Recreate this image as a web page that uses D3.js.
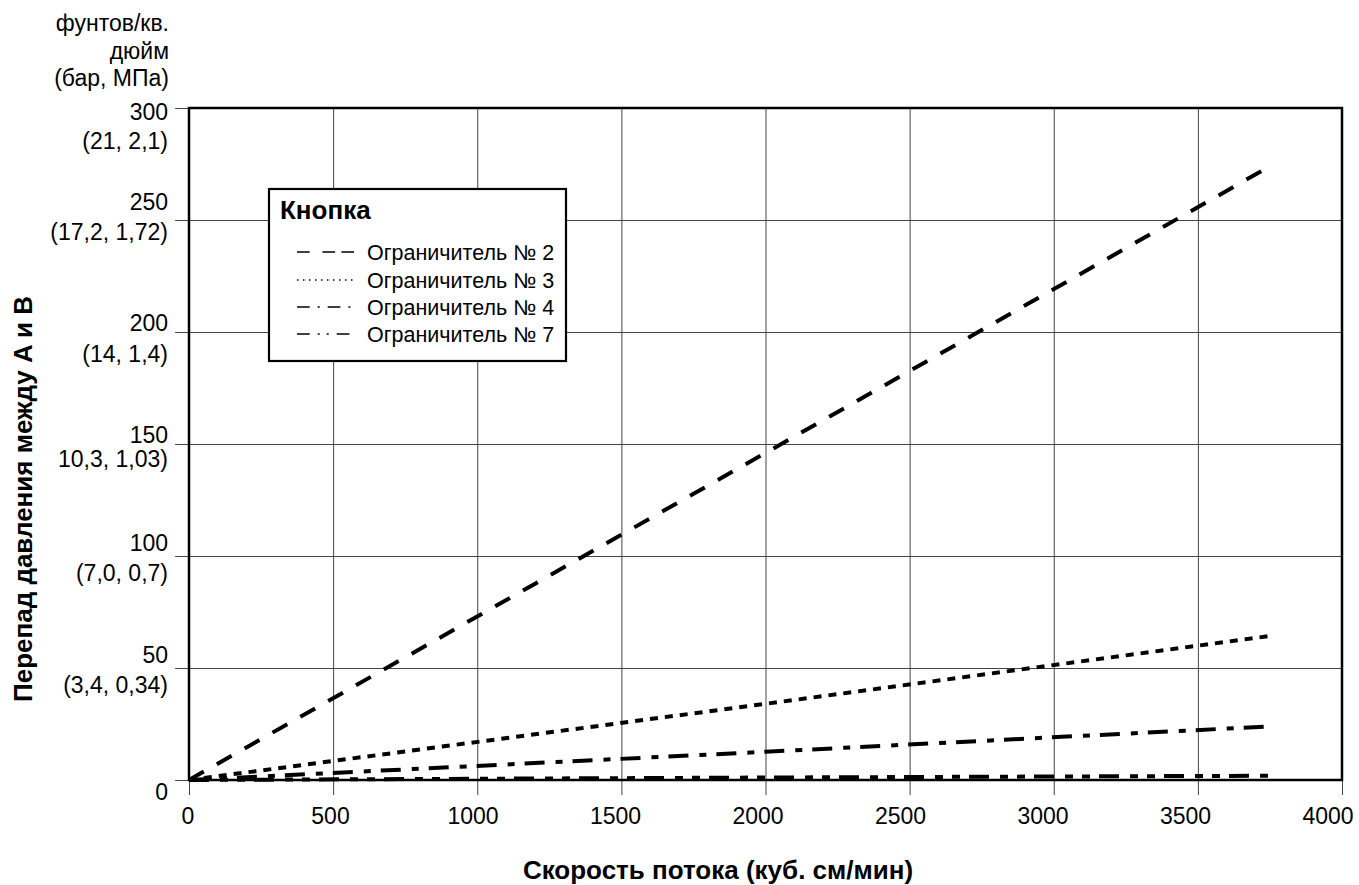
<!DOCTYPE html>
<html>
<head>
<meta charset="utf-8">
<script src="https://cdn.jsdelivr.net/npm/d3@7"></script>
<style>
    body { margin: 0; background: #fff; }
    svg { font-family: "Liberation Sans", Arial, Helvetica, sans-serif; }
</style>
</head>
<body>
<div id="chart"></div>
<script>
// flow rate (cc/min) ticks and pressure ticks
const xTicks = [0, 500, 1000, 1500, 2000, 2500, 3000, 3500, 4000];
const yTicks = [0, 50, 100, 150, 200, 250, 300];
const yTickUnits = ['', '(3,4, 0,34)', '(7,0, 0,7)', '10,3, 1,03)', '(14, 1,4)', '(17,2, 1,72)', '(21, 2,1)'];
const unitLines = ['фунтов/кв.', 'дюйм', '(бар, МПа)'];

// restrictor series, [flow, psi]
const seriesNames = ['Ограничитель № 2', 'Ограничитель № 3', 'Ограничитель № 4', 'Ограничитель № 7'];
const restrictor2 = [[0, 0], [2000, 146], [3750, 274]];
const restrictor3 = [[0, 0], [2000, 34], [3750, 64.3]];
const restrictor4 = [[0, 0], [2000, 12.6], [3730, 23.8]];
const restrictor7 = [[0, 0], [2000, 1.1], [3750, 1.9]];
const seriesData = [restrictor2, restrictor3, restrictor4, restrictor7];

const dashes = ['17,15', '8,7', '20,11,7,10', '20,11,8,9,8,9'];
const legendDashes = ['12.7,12.7,12.7,6.3', '1.5,4.5', '12.7,8,2,8', '12.7,8,2,7,2,8'];

const W = 1359, H = 885;
const margin = {left: 189, top: 108, right: 17, bottom: 105};
const w = W - margin.left - margin.right,
      h = H - margin.top - margin.bottom;

const x = d3.scaleLinear().domain([0, 4000]).range([0, w]);
const y = d3.scaleLinear().domain([0, 300]).range([h, 0]);
// tick labels in the original sit on a slightly shorter run than the grid
const xLabel = d3.scaleLinear().domain([0, 4000]).range([-1, w - 14]);

const FONT = '"Liberation Sans", Arial, Helvetica, sans-serif';
const GRID = '#444';

const svg = d3.select('#chart').append('svg')
    .attr('width', W).attr('height', H)
    .attr('font-family', FONT);

const g = svg.append('g')
    .attr('transform', `translate(${margin.left},${margin.top})`);

// x axis + vertical grid
const xAxis = g.append('g')
    .attr('class', 'x-axis')
    .attr('transform', `translate(0,${h})`)
    .call(d3.axisBottom(x).tickValues(xTicks).tickSize(15).tickSizeOuter(0).tickFormat(''))
    .call(_ => _.select('.domain').remove())
    .call(_ => _.selectAll('.tick line').attr('y1', -h).attr('stroke', GRID));

xAxis.append('g').selectAll('text')
    .data(xTicks)
  .enter().append('text')
    .attr('x', d => xLabel(d))
    .attr('y', 44)
    .attr('text-anchor', 'middle')
    .attr('font-size', 23)
    .attr('font-family', FONT)
    .attr('fill', '#000')
    .text(d => d);

// y axis + horizontal grid
const yAxis = g.append('g')
    .attr('class', 'y-axis')
    .call(d3.axisLeft(y).tickValues(yTicks).tickSize(14).tickSizeOuter(0).tickFormat(''))
    .call(_ => _.select('.domain').remove())
    .call(_ => _.selectAll('.tick line').attr('x1', w).attr('stroke', GRID));

// baseline offsets of the two label lines, as placed in the original
function labelOffsets(v) {
    if (v === 300) return [11, 40];
    if (v === 250) return [-11, 19];
    if (v === 0) return [19, 0];
    if (v >= 150) return [-2, v === 200 ? 29 : 22];
    return [-6, 24];
}

yAxis.selectAll('.tick').each(function(d, i) {
    const t = d3.select(this),
        off = labelOffsets(d);
    t.append('text')
        .attr('x', -21).attr('y', off[0])
        .attr('text-anchor', 'end').attr('font-size', 23).attr('fill', '#000')
        .attr('font-family', FONT)
        .text(d);
    if (yTickUnits[i]) {
        t.append('text')
            .attr('x', -21).attr('y', off[1])
            .attr('text-anchor', 'end').attr('font-size', 23).attr('fill', '#000')
            .attr('font-family', FONT)
            .text(yTickUnits[i]);
    }
});

// units above y axis
svg.append('g').selectAll('text')
    .data(unitLines)
  .enter().append('text')
    .attr('x', margin.left - 20)
    .attr('y', (d, i) => 31 + i * 27.5)
    .attr('text-anchor', 'end')
    .attr('font-size', 23)
    .text(d => d);

// frame
g.append('rect')
    .attr('width', w).attr('height', h)
    .attr('fill', 'none').attr('stroke', '#000').attr('stroke-width', 2.5);

// series lines
const line = d3.line().x(d => x(d[0])).y(d => y(d[1]));
g.append('g').selectAll('path')
    .data(seriesData)
  .enter().append('path')
    .attr('d', line)
    .attr('fill', 'none')
    .attr('stroke', '#000')
    .attr('stroke-width', 4)
    .attr('stroke-dasharray', (d, i) => dashes[i]);

// legend
const legend = svg.append('g').attr('transform', 'translate(269,189)');
legend.append('rect')
    .attr('width', 297).attr('height', 172)
    .attr('fill', '#fff').attr('stroke', '#000').attr('stroke-width', 2.2);
legend.append('text')
    .attr('x', 11).attr('y', 30)
    .attr('font-size', 26).attr('font-weight', 'bold')
    .text('Кнопка');
const items = legend.selectAll('.item')
    .data(seriesNames)
  .enter().append('g')
    .attr('class', 'item')
    .attr('transform', (d, i) => `translate(0,${[63, 91, 118, 145][i]})`);
items.append('line')
    .attr('x1', 28).attr('x2', 86)
    .attr('stroke', '#000').attr('stroke-width', 1.6)
    .attr('stroke-dasharray', (d, i) => legendDashes[i]);
items.append('text')
    .attr('x', 98).attr('y', 7.5)
    .attr('font-size', 21.5)
    .text(d => d);

// axis titles
svg.append('text')
    .attr('x', 718).attr('y', 879)
    .attr('text-anchor', 'middle')
    .attr('font-size', 26).attr('font-weight', 'bold')
    .text('Скорость потока (куб. см/мин)');

svg.append('text')
    .attr('transform', 'translate(32,499) rotate(-90)')
    .attr('text-anchor', 'middle')
    .attr('font-size', 26).attr('font-weight', 'bold')
    .text('Перепад давления между A и B');
</script>
</body>
</html>
